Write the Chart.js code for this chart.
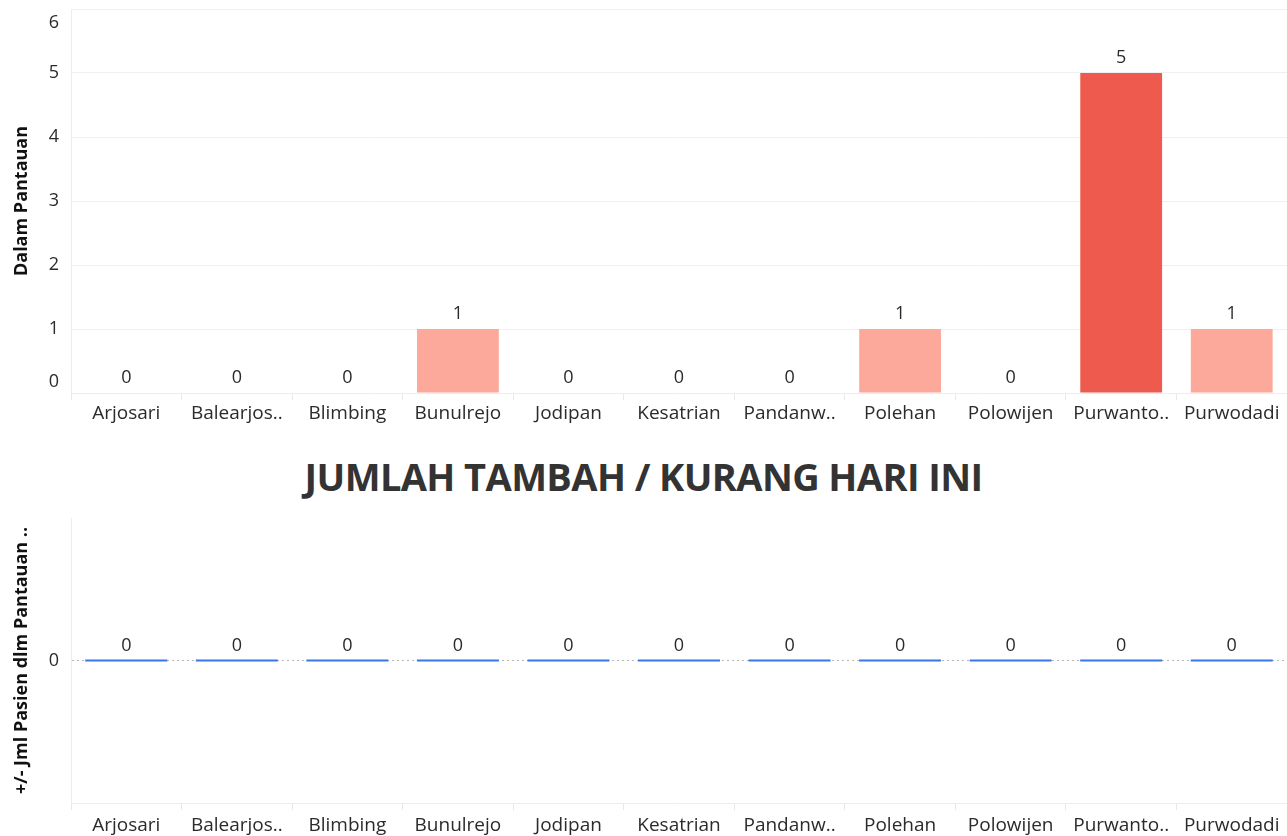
<!DOCTYPE html>
<html>
<head>
<meta charset="utf-8">
<script src="https://cdn.jsdelivr.net/npm/chart.js@4"></script>
<style>
  html, body { margin: 0; padding: 0; background: #fff; }
  body { width: 1287px; height: 836px; overflow: hidden; font-family: "Open Sans", sans-serif; }
  #topBox { position: absolute; left: 0; top: 0; width: 1287px; height: 440px; }
  #bottomBox { position: absolute; left: 0; top: 500px; width: 1287px; height: 336px; }
  h2 {
    position: absolute; left: 0; top: 450px; width: 1287px; margin: 0;
    text-align: center; font: 700 38px/52px "Open Sans", sans-serif; color: #333;
    letter-spacing: -0.6px;
  }
</style>
</head>
<body>
<div id="topBox"><canvas id="pantauanChart"></canvas></div>
<h2>JUMLAH TAMBAH / KURANG HARI INI</h2>
<div id="bottomBox"><canvas id="perubahanChart"></canvas></div>
<script>
const districts = ['Arjosari', 'Balearjos..', 'Blimbing', 'Bunulrejo', 'Jodipan', 'Kesatrian',
                   'Pandanw..', 'Polehan', 'Polowijen', 'Purwanto..', 'Purwodadi'];
const pantauan = [0, 0, 0, 1, 0, 0, 0, 1, 0, 5, 1];
const perubahan = [0, 0, 0, 0, 0, 0, 0, 0, 0, 0, 0];
const pantauanTicks = [0, 1, 2, 3, 4, 5, 6];
const perubahanTicks = [0];

const textColor = '#2b2b2b';
const tickFont = { family: 'Open Sans', size: 19 };
const titleFont = { family: 'Open Sans', size: 18, weight: 'bold' };

Chart.defaults.animation = false;
Chart.defaults.color = textColor;

// writes each value above its mark
const valueLabels = {
  id: 'valueLabels',
  afterDatasetsDraw(chart, args, opts) {
    const ctx = chart.ctx;
    const meta = chart.getDatasetMeta(0);
    const values = chart.data.datasets[0].data;
    ctx.save();
    ctx.font = '18px "Open Sans"';
    ctx.fillStyle = textColor;
    ctx.textAlign = 'center';
    ctx.textBaseline = 'bottom';
    meta.data.forEach((el, i) => {
      ctx.fillText(values[i], el.x, el.y - opts.gap);
    });
    ctx.restore();
  }
};

// y tick labels, the end ones pulled inside the plot like the dashboard does
const yTickLabels = {
  id: 'yTickLabels',
  afterDraw(chart) {
    const ctx = chart.ctx;
    const s = chart.scales.y;
    ctx.save();
    ctx.font = '18px "Open Sans"';
    ctx.fillStyle = textColor;
    ctx.textAlign = 'right';
    s.ticks.forEach(t => {
      const y = s.getPixelForValue(t.value);
      if (t.value === s.min) {
        ctx.textBaseline = 'bottom';
        ctx.fillText(t.value, s.right - 12, y - 2);
      } else if (t.value === s.max) {
        ctx.textBaseline = 'top';
        ctx.fillText(t.value, s.right - 12, y + 5);
      } else {
        ctx.textBaseline = 'middle';
        ctx.fillText(t.value, s.right - 12, y);
      }
    });
    ctx.restore();
  }
};

function barColor(v) {
  return v >= 5 ? '#ef5a4e' : '#fca89a';
}

function fixAxisWidth(s) {
  s.width = 71;
  s.paddingTop = 0;
  s.paddingBottom = 0;
}

new Chart(document.getElementById('pantauanChart'), {
  type: 'bar',
  data: {
    labels: districts,
    datasets: [{
      data: pantauan,
      backgroundColor: pantauan.map(barColor),
      categoryPercentage: 1,
      barPercentage: 0.74
    }]
  },
  plugins: [valueLabels, yTickLabels],
  options: {
    responsive: true,
    maintainAspectRatio: false,
    layout: { autoPadding: false, padding: { top: 9, right: 0, left: 0, bottom: 0 } },
    plugins: {
      legend: { display: false },
      tooltip: { enabled: false },
      valueLabels: { gap: 6 }
    },
    scales: {
      x: {
        grid: { drawOnChartArea: false, offset: true, tickLength: 7, color: '#e8e8e8' },
        border: { color: '#ededed' },
        ticks: { font: tickFont, color: textColor, maxRotation: 0, autoSkip: false, padding: 2 },
        afterFit: s => { s.height = 47; s.paddingLeft = 0; s.paddingRight = 0; }
      },
      y: {
        min: 0,
        max: 6,
        afterBuildTicks: s => { s.ticks = pantauanTicks.map(v => ({ value: v })); },
        grid: { color: '#f0f0f0', drawTicks: false },
        border: { color: '#ededed' },
        ticks: { display: false },
        title: { display: true, text: 'Dalam Pantauan', font: titleFont, color: '#111', padding: { top: 11, bottom: 0 } },
        afterFit: fixAxisWidth
      }
    }
  }
});

new Chart(document.getElementById('perubahanChart'), {
  type: 'line',
  data: {
    labels: districts,
    datasets: [{
      data: perubahan,
      showLine: false,
      pointStyle: 'line',
      pointRadius: 41,
      pointHoverRadius: 41,
      pointBorderWidth: 2,
      pointBorderColor: '#3a76e6',
      borderColor: '#3a76e6'
    }]
  },
  plugins: [valueLabels, yTickLabels],
  options: {
    responsive: true,
    maintainAspectRatio: false,
    layout: { autoPadding: false, padding: { top: 18, right: 0, left: 0, bottom: 0 } },
    plugins: {
      legend: { display: false },
      tooltip: { enabled: false },
      valueLabels: { gap: 6 }
    },
    scales: {
      x: {
        offset: true,
        grid: { drawOnChartArea: false, offset: true, tickLength: 7, color: '#e8e8e8' },
        border: { color: '#ededed' },
        ticks: { font: tickFont, color: textColor, maxRotation: 0, autoSkip: false, padding: 4 },
        afterFit: s => { s.height = 33; s.paddingLeft = 0; s.paddingRight = 0; }
      },
      y: {
        min: -1,
        max: 1,
        afterBuildTicks: s => { s.ticks = perubahanTicks.map(v => ({ value: v })); },
        grid: { color: '#b8b8b8', drawTicks: false, lineWidth: 1 },
        border: { color: '#ededed', dash: [2, 3] },
        ticks: { display: false },
        title: { display: true, text: '+/- Jml Pasien dlm Pantauan ..', font: titleFont, color: '#111', padding: { top: 11, bottom: 0 } },
        afterFit: fixAxisWidth
      }
    }
  }
});
</script>
</body>
</html>
